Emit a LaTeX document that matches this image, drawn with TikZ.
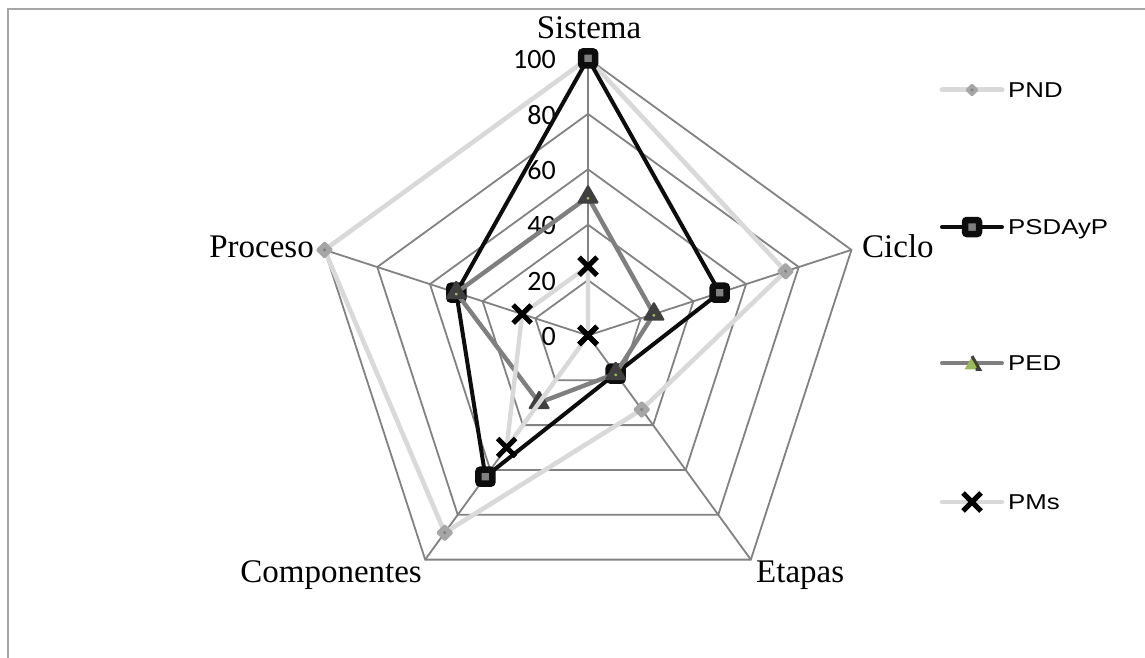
\documentclass[tikz,border=0pt]{standalone}
\usepackage{graphicx}
\usepackage{fontspec}
\setmainfont{Liberation Serif}
\newfontfamily\tickfont{Carlito}
\newfontfamily\legfont{Liberation Sans}
\usetikzlibrary{shapes.geometric,shapes.misc}
\definecolor{cGrid}{HTML}{828282}
\definecolor{cFrame}{HTML}{A6A6A6}
\definecolor{cPNDl}{HTML}{D9D9D9}
\definecolor{cPNDm}{HTML}{A6A6A6}
\definecolor{cPNDd}{HTML}{7F7F7F}
\definecolor{cPSDl}{HTML}{0D0D0D}
\definecolor{cPSDf}{HTML}{808080}
\definecolor{cPEDl}{HTML}{7F7F7F}
\definecolor{cPEDm}{HTML}{404040}
\definecolor{cPEDg}{HTML}{9BBB59}
\tikzset{
  gridline/.style={draw=cGrid, line width=1.8pt},
  ticklabel/.style={font=\tickfont\fontsize{28}{30}\selectfont, anchor=base east, inner sep=0pt},
  axislabel/.style={font=\fontsize{33}{40}\selectfont, inner sep=0pt},
  legtext/.style={font=\legfont\fontsize{21.5}{26}\selectfont, anchor=base west, inner sep=0pt},
  pndser/.style={draw=cPNDl, line width=4.6pt, line join=round, line cap=round},
  psdser/.style={draw=cPSDl, line width=4pt, line join=round, line cap=round},
  pedser/.style={draw=cPEDl, line width=4.4pt, line join=round, line cap=round},
  pmsser/.style={draw=cPNDl, line width=4.4pt, line join=round, line cap=round},
  mdiam/.style={diamond, fill=cPNDm, minimum size=18pt, inner sep=0pt, rounded corners=1.5pt,
    path picture={\fill[cPNDd] (path picture bounding box.center) circle (1.7pt);}},
  msq/.style={rectangle, draw=cPSDl, fill=cPSDf, line width=6.5pt, minimum size=14pt, inner sep=0pt, rounded corners=2pt},
  mtri/.style={regular polygon, regular polygon sides=3, fill=cPEDm, minimum size=26pt, inner sep=0pt, rounded corners=1.5pt,
    path picture={\fill[cPEDg] ([shift={(0pt,-2pt)}]path picture bounding box.center) -- ++(2.2pt,-3.8pt) -- ++(-4.4pt,0pt) -- cycle;}},
  mx/.style={cross out, draw=black, line width=5pt, minimum size=13pt, inner sep=0pt},
  legtri/.style={regular polygon, regular polygon sides=3, fill=cPEDg, minimum size=17pt, inner sep=0pt},
}
\begin{document}
\begin{tikzpicture}[x=1pt,y=-1pt]
\useasboundingbox (0,0) rectangle (1145,658);
\fill[white] (0,0) rectangle (1145,658);
% frame
\coordinate (fa) at (8,658);
\coordinate (fb) at (8,9);
\coordinate (fc) at (1145,9);
\draw[draw=cFrame, line width=2pt] (fa) -- (fb) -- (fc);

\begin{scope}[shift={(588,335.5)}]
  \coordinate (O) at (0,0);
  \foreach \k in {1,...,5}{
    \pgfmathsetmacro\r{55.4*\k}
    \draw[gridline] (90:\r pt) -- (18:\r pt) -- (-54:\r pt) -- (-126:\r pt) -- (162:\r pt) -- cycle;
  }
  \foreach \a/\n in {90/S,18/C,-54/E,-126/K,162/P}{
    \coordinate (ax\n) at (\a:277pt);
    \draw[gridline] (O) -- (ax\n);
  }
  \foreach \v/\a/\i in {100/90/1,75/18/2,33/-54/3,88/-126/4,100/162/5}{
    \pgfmathsetmacro\r{2.77*\v}
    \coordinate (pnd\i) at (\a:\r pt);
  }
  \foreach \v/\a/\i in {100/90/1,50/18/2,17/-54/3,63/-126/4,50/162/5}{
    \pgfmathsetmacro\r{2.77*\v}
    \coordinate (psd\i) at (\a:\r pt);
  }
  \foreach \v/\a/\i in {50/90/1,25/18/2,17/-54/3,30/-126/4,50/162/5}{
    \pgfmathsetmacro\r{2.77*\v}
    \coordinate (ped\i) at (\a:\r pt);
  }
  \foreach \v/\a/\i in {25/90/1,0/18/2,0/-54/3,50/-126/4,25/162/5}{
    \pgfmathsetmacro\r{2.77*\v}
    \coordinate (pms\i) at (\a:\r pt);
  }
\end{scope}

% tick labels
\node[ticklabel] (t0) at (556,345.7) {0};
\node[ticklabel] (t20) at (556,290.3) {20};
\node[ticklabel] (t40) at (556,234.9) {40};
\node[ticklabel] (t60) at (556,179.5) {60};
\node[ticklabel] (t80) at (556,124.1) {80};
\node[ticklabel] (t100) at (556,68.7) {100};

% axis labels
\node[axislabel, anchor=base] (lS) at (589,39) {Sistema};
\node[axislabel, anchor=base west] (lC) at (862,257) {Ciclo};
\node[axislabel, anchor=base west] (lE) at (756,582) {Etapas};
\node[axislabel, anchor=base east] (lK) at (422,582) {Componentes};
\node[axislabel, anchor=base east] (lP) at (314,257) {Proceso};

% series
\draw[pndser] (pnd1) -- (pnd2) -- (pnd3) -- (pnd4) -- (pnd5) -- cycle;
\foreach \i in {1,...,5} \node[mdiam] (mpnd\i) at (pnd\i) {};
\draw[psdser] (psd1) -- (psd2) -- (psd3) -- (psd4) -- (psd5) -- cycle;
\foreach \i in {1,...,5} \node[msq] (mpsd\i) at (psd\i) {};
\draw[pedser] (ped1) -- (ped2) -- (ped3) -- (ped4) -- (ped5) -- cycle;
\foreach \i in {1,...,5} \node[mtri] (mped\i) at (ped\i) {};
\draw[pmsser] (pms1) -- (pms2) -- (pms3) -- (pms4) -- (pms5) -- cycle;
\foreach \i in {1,...,5} \node[mx] (mpms\i) at (pms\i) {};

% legend
\foreach \y/\i in {90/1,227/2,363/3,502/4}{
  \coordinate (la\i) at (942,\y);
  \coordinate (lb\i) at (1002,\y);
  \coordinate (lm\i) at (972,\y);
}
\draw[pndser, line width=5pt] (la1) -- (lb1);
\node[mdiam, minimum size=14pt] (lg1) at (lm1) {};
\node[legtext] (lt1) at (1008,97.5) {\scalebox{1.2}[1]{PND}};

\draw[psdser, line width=4pt] (la2) -- (lb2);
\node[msq] (lg2) at (lm2) {};
\node[legtext] (lt2) at (1008,234.5) {\scalebox{1.2}[1]{PSDAyP}};

\draw[pedser, line width=4pt] (la3) -- (lb3);
\node[legtri] (lg3) at (972,365) {};
\draw[draw=cPEDm, line width=3pt] (lg3.corner 1) -- (lg3.corner 3) -- ([xshift=-4pt]lg3.corner 3);
\node[legtext] (lt3) at (1008,370.5) {\scalebox{1.2}[1]{PED}};

\draw[pmsser, line width=4.5pt] (la4) -- (lb4);
\node[mx] (lg4) at (lm4) {};
\node[legtext] (lt4) at (1008,509.5) {\scalebox{1.2}[1]{PMs}};
\end{tikzpicture}
\end{document}
